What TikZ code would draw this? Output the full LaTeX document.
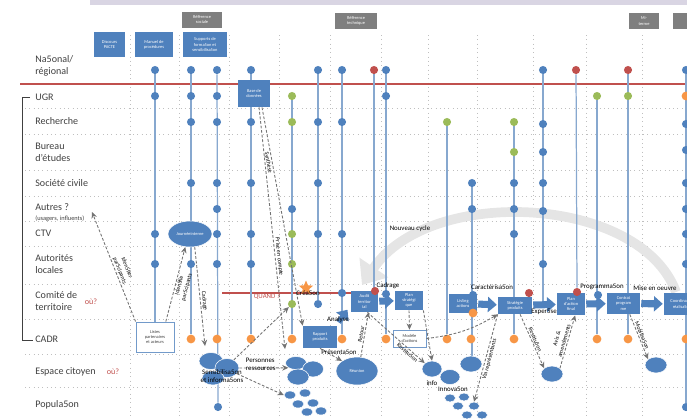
\documentclass[tikz,border=0pt]{standalone}
\usepackage{fontspec}
\setmainfont{Carlito}
\usetikzlibrary{shapes.geometric,arrows.meta,backgrounds}
\definecolor{cblue}{RGB}{79,129,189}
\definecolor{cgreen}{RGB}{155,187,89}
\definecolor{cred}{RGB}{192,80,77}
\definecolor{corange}{RGB}{247,150,70}
\definecolor{cgray}{RGB}{127,127,127}
\definecolor{cline}{RGB}{135,168,207}
\definecolor{cband}{RGB}{217,213,227}
\definecolor{cdash}{RGB}{115,115,115}
\definecolor{darktext}{RGB}{64,64,64}
\newcommand{\rowfont}{\fontsize{5.7}{6.8}\selectfont}
\newcommand{\subrowfont}{\fontsize{3.6}{4.2}\selectfont}
\newcommand{\redfont}{\fontsize{4.6}{5.4}\selectfont}
\newcommand{\boxfont}{\fontsize{2.5}{2.9}\selectfont}
\newcommand{\labfont}{\fontsize{3.9}{4.5}\selectfont}
\newcommand{\linkfont}{\fontsize{3.3}{4.4}\selectfont}
\tikzset{
	bdot/.style={circle,inner sep=0pt,minimum size=4.6pt,fill=cblue},
	gdot/.style={bdot,fill=cgreen},
	rdot/.style={bdot,fill=cred},
	odot/.style={bdot,minimum size=5pt,fill=corange},
	col/.style={draw=cline,line width=0.7pt},
	gridline/.style={draw=gray!50,dotted,line width=0.45pt},
	rowlab/.style={anchor=west,inner sep=0pt,font=\rowfont,text=darktext,align=left},
	box/.style 2 args={rectangle,fill=cblue,text=white,font=\boxfont,align=center,inner sep=0pt,minimum width=#1*0.567pt,minimum height=#2*0.567pt},
	gbox/.style 2 args={box={#1}{#2},fill=cgray},
	wbox/.style 2 args={box={#1}{#2},fill=white,draw=cblue!80,line width=0.5pt,text=darktext},
	blob/.style 2 args={ellipse,fill=cblue,draw=white,line width=0.3pt,inner sep=0pt,minimum width=#1*1.134pt,minimum height=#2*1.134pt,text=white,font=\boxfont},
	flow/.style={draw=cblue,line width=4pt,-{Triangle[length=5pt,width=8.5pt]},shorten <=0.5pt,shorten >=0.5pt},
	link/.style={draw=cdash,line width=0.5pt,dash pattern=on 1.6pt off 1pt,-{Stealth[length=3.5pt,width=3.2pt]}},
	lab/.style={inner sep=0.3pt,font=\labfont},
	along/.style={sloped,inner sep=0.6pt,font=\linkfont,align=center},
	loopback/.style={draw=gray!20,line width=5.5pt,-{Triangle[length=12pt,width=19pt]}}
}
\begin{document}
\begin{tikzpicture}[x=0.567pt,y=-0.567pt]
	\useasboundingbox (0,0) rectangle (687,419);
	\fill[cband] (90,0) rectangle (687,5);

	% rows
	\node[rowlab] (nat) at (35,66) {Na5onal/\\régional};
	\node[rowlab] (ugr) at (35,97) {UGR};
	\node[rowlab] (rech) at (35,121) {Recherche};
	\node[rowlab] (bureau) at (35,152) {Bureau\\d'études};
	\node[rowlab] (soc) at (35,183) {Société civile};
	\node[rowlab] (autres) at (35,207) {Autres ?};
	\node[rowlab,font=\subrowfont] (usagers) at (35,219) {(usagers, influents)};
	\node[rowlab] (ctv) at (35,233) {CTV};
	\node[rowlab] (autloc) at (35,264) {Autorités\\locales};
	\node[rowlab] (comite) at (35,301) {Comité de\\territoire};
	\node[rowlab] (cadr) at (35,339) {CADR};
	\node[rowlab] (espace) at (35,372) {Espace citoyen};
	\node[rowlab] (pop) at (35,405) {Popula5on};
	\node[lab,font=\redfont,text=cred] (ou1) at (91,302) {où?};
	\node[lab,font=\redfont,text=cred] (ou2) at (113,372) {où?};

	% headers
	\node[gbox={40}{16}] (refsoc) at (202,19.5) {Référence\\sociale};
	\node[gbox={42}{16}] (reftech) at (356,21) {Référence\\technique};
	\node[gbox={30}{16}] (miterme) at (644,21) {Mi-\\terme};
	\node[gbox={22}{16}] (fin) at (684,21) {};
	\node[box={31}{25}] (pacte) at (109.5,44.5) {Discours\\PACTE};
	\node[box={38}{25}] (manuel) at (154,44.5) {Manuel de\\procédures};
	\node[box={44}{25}] (supports) at (205,44.5) {Supports de\\forma5on et\\sensibilisa5on};

	% boxes
	\node[box={32}{27}] (base) at (254,93.5) {Base de\\données};
	\node[box={27}{21}] (audit) at (364.5,301.5) {Audit\\territor\\ial};
	\node[box={28}{19}] (plans) at (409,300.5) {Plan\\stratégi\\que};
	\node[box={28}{19}] (lis) at (463,303.5) {Lis5ng\\actions};
	\node[box={34}{17}] (strat) at (515,305.5) {Stratégie\\produits};
	\node[box={28}{22}] (pfin) at (571,304) {Plan\\d'action\\final};
	\node[box={33}{21}] (contrat) at (623.5,303.5) {Contrat\\program\\me};
	\node[box={36}{22}] (coord) at (682,304) {Coordina5on\\réalisa5on};
	\node[box={34}{22}] (rapport) at (320,337) {Rapport\\produits};
	\node[wbox={38}{30}] (listes) at (155,337) {Listes\\partenaires\\et acteurs};
	\node[wbox={33}{17}] (modele) at (409.5,338.5) {Modèle\\d'actions};

	% ellipses
	\node[blob={22}{13}] (journee) at (190,234) {Journée\\interne};
	\node[blob={12}{8.5}] (sens1) at (211,361) {};
	\node[blob={12}{9.5}] (sens2) at (227,368) {};
	\node[blob={11}{7}] (sens3) at (213,378) {};
	\node[blob={10.5}{6.5}] (pers1) at (296,363) {};
	\node[blob={10.5}{8}] (pers2) at (313,369) {};
	\node[blob={11}{8}] (pers3) at (298,377) {};
	\node[blob={6}{4}] (ps1) at (290,395) {};
	\node[blob={6}{4}] (ps2) at (305,393) {};
	\node[blob={6}{4}] (ps3) at (298,404) {};
	\node[blob={6}{4}] (ps4) at (313,403) {};
	\node[blob={6}{4}] (ps5) at (307,412) {};
	\node[blob={6}{4}] (ps6) at (321,411) {};
	\node[blob={21}{14}] (reunion) at (357,371) {Réunion};
	\node[blob={10}{8}] (info) at (432,369) {};
	\node[blob={11}{8}] (inno1) at (471,364) {};
	\node[blob={10}{7.5}] (inno2) at (450,377) {};
	\node[blob={5.5}{4}] (is1) at (450,398) {};
	\node[blob={5.5}{4}] (is2) at (464,397) {};
	\node[blob={5.5}{4}] (is3) at (458,406) {};
	\node[blob={5.5}{4}] (is4) at (474,406) {};
	\node[blob={5.5}{4}] (is5) at (467,415) {};
	\node[blob={5.5}{4}] (is6) at (482,415) {};
	\node[blob={11}{8}] (ell1) at (552,374) {};
	\node[blob={11}{8}] (ell2) at (656,365) {};
	\node[star,star points=5,star point ratio=2.2,fill=corange,inner sep=0pt,minimum size=8.5pt] (star) at (306,288) {};

	% dots
	\node[bdot] (a70) at (155,70) {};
	\node[bdot] (a96) at (155,96) {};
	\node[bdot] (a234) at (155,234) {};
	\node[bdot] (a264) at (155,264) {};
	\node[bdot] (b70) at (191,70) {};
	\node[bdot] (b96) at (191,96) {};
	\node[bdot] (b122) at (191,122) {};
	\node[bdot] (b183) at (191,183) {};
	\node[bdot] (b264) at (191,264) {};
	\node[odot] (b339) at (191,339) {};
	\node[bdot] (c70) at (217,70) {};
	\node[bdot] (c96) at (217,96) {};
	\node[bdot] (c122) at (217,122) {};
	\node[bdot] (c183) at (217,183) {};
	\node[bdot] (c209) at (217,209) {};
	\node[bdot] (c234) at (217,234) {};
	\node[bdot] (c264) at (217,264) {};
	\node[odot] (c339) at (217,339) {};
	\node[bdot] (c407) at (218,407) {};
	\node[bdot] (d70) at (251,70) {};
	\node[bdot] (d122) at (251,122) {};
	\node[bdot] (d183) at (251,183) {};
	\node[bdot] (d234) at (251,234) {};
	\node[bdot] (d264) at (251,264) {};
	\node[odot] (d339) at (251,339) {};
	\node[gdot] (e96) at (292,96) {};
	\node[gdot] (e122) at (292,122) {};
	\node[bdot] (e209) at (292,209) {};
	\node[gdot] (e234) at (292,234) {};
	\node[gdot] (e264) at (292,264) {};
	\node[gdot] (e304) at (292,304) {};
	\node[odot] (e339) at (292,339) {};
	\node[bdot] (f70) at (318,70) {};
	\node[bdot] (f122) at (318,122) {};
	\node[bdot] (f183) at (318,183) {};
	\node[bdot] (f234) at (318,234) {};
	\node[bdot] (f304) at (318,304) {};
	\node[bdot] (g70) at (342,70) {};
	\node[bdot] (g122) at (342,122) {};
	\node[bdot] (g234) at (342,234) {};
	\node[bdot] (g293) at (342,293) {};
	\node[odot] (g339) at (342,339) {};
	\node[rdot] (h70) at (374,70) {};
	\node[rdot] (h291) at (375,291) {};
	\node[bdot] (i70) at (386,70) {};
	\node[bdot] (i96) at (386,96) {};
	\node[bdot] (i294) at (386,294) {};
	\node[odot] (i339) at (386,339) {};
	\node[gdot] (j122) at (447,122) {};
	\node[odot] (j339) at (447,339) {};
	\node[bdot] (k183) at (472,183) {};
	\node[bdot] (k209) at (472,209) {};
	\node[bdot] (k295) at (473,295) {};
	\node[odot] (k313) at (473,313) {};
	\node[odot] (k339) at (471,339) {};
	\node[gdot] (l122) at (514,122) {};
	\node[gdot] (l152) at (514,152) {};
	\node[bdot] (l183) at (514,183) {};
	\node[bdot] (l209) at (514,209) {};
	\node[bdot] (l234) at (514,234) {};
	\node[odot] (l339) at (514,339) {};
	\node[rdot] (l293) at (529,293) {};
	\node[bdot] (m70) at (543,70) {};
	\node[bdot] (m124) at (543,124) {};
	\node[bdot] (m152) at (543,152) {};
	\node[bdot] (m183) at (543,183) {};
	\node[bdot] (m211) at (543,211) {};
	\node[bdot] (m264) at (543,264) {};
	\coordinate (mend) at (543,303);
	\node[rdot] (n70) at (576,70) {};
	\node[rdot] (n292) at (577,292) {};
	\node[gdot] (o96) at (597,96) {};
	\node[bdot] (o295) at (598,295) {};
	\node[odot] (o339) at (597,339) {};
	\node[rdot] (p70) at (628,70) {};
	\node[gdot] (p96) at (628,96) {};
	\node[odot] (p339) at (628,339) {};
	\node[bdot] (q70) at (686,70) {};
	\node[odot] (q96) at (686,96) {};
	\node[bdot] (q124) at (686,124) {};
	\node[bdot] (q150) at (686,150) {};
	\node[bdot] (q183) at (686,183) {};
	\node[bdot] (q209) at (686,209) {};
	\node[bdot] (q234) at (686,234) {};
	\node[bdot] (q264) at (686,264) {};
	\node[odot] (q339) at (686,339) {};
	\node[bdot] (q407) at (686,407) {};

	% flow
	\draw[flow] (audit) -- (plans);
	\draw[flow] (lis) -- (strat);
	\draw[flow] (strat) -- (pfin);
	\draw[flow] (pfin) -- (contrat);
	\draw[flow] (contrat) -- (coord);
	\coordinate (anas) at (338,323);
	\coordinate (anat) at (348,309);
	\draw[flow,line width=3pt] (anas) -- (anat);

	% dashed links
	\coordinate (idtip) at (92,212);
	\coordinate (cadtip) at (205,346);
	\coordinate (ptip) at (285,349);
	\draw[link] (listes.north west) -- (idtip) node[along,pos=0.45,above] {Iden5fier\\par5cipants};
	\draw[link] (listes.55) -- (journee.250) node[along,pos=0.5,below] {Iden5fie\\par5cipants};
	\draw[link] (journee.290) -- (cadtip) node[along,pos=0.55,above] {Cadrage};
	\draw[link] (base.-70) -- (ptip) node[along,pos=0.62,above] {Prise en compte};
	\draw[link] (base.-60) -- (rapport.north west) node[along,pos=0.25,below] {Synthèse};
	\draw[link] (sens2.50) -- (e304);
	\draw[link] (sens2.east) -- (pers1.south west);
	\draw[link] (sens2.-30) -- (ps1.west);
	\draw[link] (rapport.south) -- (reunion.north west);
	\draw[link] (reunion.75) -- (audit.290) node[along,midway,above] {Retour};
	\draw[link] (audit.-75) -- (info.north west) node[along,pos=0.74,below] {Restitu5on};
	\draw[link] (plans.south) -- (modele.north);
	\draw[link] (plans.south east) -- (info.north);
	\draw[link] (modele.east) to[bend right=12] (strat.south west);
	\draw[link] (strat.south west) -- (is4.north) node[along,pos=0.5,below] {Via représentants};
	\draw[link] (strat.-60) -- (ell1.north west) node[along,midway,above] {Restitu5on};
	\draw[link] (ell1.north east) -- (pfin.-70) node[along,midway,above] {Avis \&\\amendements};
	\draw[link] (contrat.-60) -- (ell2.north west) node[along,midway,above] {Mobilisa5on};

	% labels
	\node[lab] (cadl) at (388,286) {Cadrage};
	\node[lab] (caral) at (492,287) {Caractérisa5on};
	\node[lab] (progl) at (602,287) {Programma5on};
	\node[lab] (misel) at (655,288) {Mise en oeuvre};
	\node[lab] (expl) at (544,312) {Exper5se};
	\node[lab] (anal) at (338,320) {Analyse};
	\node[lab,text=cred] (quand) at (267,297) {QUAND ?};
	\node[lab] (creal) at (308,293) {Créa5on};
	\node[lab] (cyclel) at (410,229) {Nouveau cycle};
	\node[lab] (presl) at (339,352) {Présenta5on};
	\node[lab] (infol) at (432,383) {info};
	\node[lab] (innol) at (453,389) {Innova5on};
	\node[lab,align=left,anchor=west] (persl) at (245,364) {Personnes\\ressources};
	\node[lab,align=center] (sensl) at (222,376) {Sensibilisa5on\\et informa5ons};

	\begin{pgfonlayer}{background}
		% grid
		\draw[gridline] (25,108) -- (687,108);
		\draw[gridline] (25,134) -- (687,134);
		\draw[gridline] (25,170) -- (687,170);
		\draw[gridline] (25,196) -- (687,196);
		\draw[gridline] (25,221) -- (687,221);
		\draw[gridline] (25,246) -- (687,246);
		\draw[gridline] (25,284) -- (687,284);
		\draw[gridline] (25,319) -- (687,319);
		\draw[gridline] (25,354) -- (687,354);
		\draw[gridline] (25,387) -- (687,387);
		\draw[gridline] (130,35) -- (130,419);
		\draw[gridline] (179,35) -- (179,419);
		\draw[gridline] (229,35) -- (229,419);
		\draw[gridline] (279,35) -- (279,419);
		\draw[gridline] (330,35) -- (330,419);
		\draw[gridline] (381,35) -- (381,419);
		\draw[gridline] (428,35) -- (428,419);
		\draw[gridline] (477,35) -- (477,419);
		\draw[gridline] (533,35) -- (533,419);
		\draw[gridline] (586,35) -- (586,419);
		\draw[gridline] (642,35) -- (642,419);
		\draw[cred,line width=0.6pt] (20,84) -- (687,84);
		\draw[cred,line width=0.6pt] (222,293) -- (audit.west |- 0,293);
		\draw[darktext,line width=0.5pt] (30,97) -- (22,97) -- (22,340) -- (33,340);
		% nouveau cycle
		\coordinate (cycs) at (676,292);
		\coordinate (cyct) at (362,285);
		\draw[loopback] (cycs) .. controls (640,195) and (430,185) .. (cyct);
		% columns
		\draw[col] (a70) -- (a70 |- listes.north);
		\draw[col] (b70) -- (b339);
		\draw[col] (c70) -- (c407);
		\draw[col] (d70) -- (d339);
		\draw[col] (e96) -- (e339);
		\draw[col] (f70) -- (f304);
		\draw[col] (g70) -- (g339);
		\draw[col] (h70) -- (h70 |- audit.north);
		\draw[col] (i70) -- (i339);
		\draw[col] (j122) -- (j339);
		\draw[col] (k183) -- (k183 |- inno1.north);
		\draw[col] (l122) -- (l339);
		\draw[col] (m70) -- (mend);
		\draw[col] (n70) -- (n292);
		\draw[col] (o96) -- (o339);
		\draw[col] (p70) -- (p339);
		\draw[col] (q70) -- (q407);
	\end{pgfonlayer}
\end{tikzpicture}
\end{document}
